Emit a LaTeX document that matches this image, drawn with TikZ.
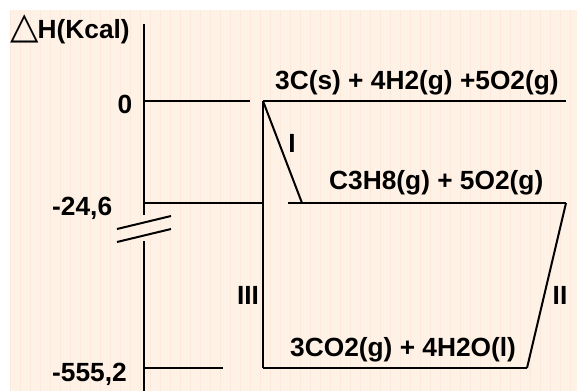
\documentclass[tikz,border=0pt]{standalone}
\usepackage{fontspec}
\setmainfont{Liberation Sans}
\newfontfamily\symfont{DejaVu Sans}
\definecolor{bgpeach}{HTML}{FEF1E6}
\definecolor{gridpeach}{HTML}{FCE9DC}
\begin{document}
\begin{tikzpicture}[x=1pt,y=-1pt,
  lbl/.style={inner sep=0pt,font=\fontsize{26.3}{31}\selectfont\bfseries},
  axis/.style={line width=2pt,black},
  lvl/.style={line width=2pt,black,line cap=butt}]
\useasboundingbox (0,0) rectangle (577,391);
\fill[white] (0,0) rectangle (577,391);
\fill[bgpeach] (10,10) rectangle (577,391);
\draw[gridpeach,line width=0.5pt] (10,10) grid[step=10] (577,391);
% axis
\coordinate (axtop) at (144,24);
\coordinate (axbrk1) at (144,215);
\coordinate (axbrk2) at (144,241);
\coordinate (axbot) at (144,391);
\draw[axis] (axtop) -- (axbrk1);
\draw[axis] (axbrk2) -- (axbot);
\coordinate (b1a) at (117,229); \coordinate (b1b) at (171,216);
\coordinate (b2a) at (117,242); \coordinate (b2b) at (171,229);
\draw[axis] (b1a) -- (b1b);
\draw[axis] (b2a) -- (b2b);
% levels
\coordinate (z0) at (144,101); \coordinate (z1) at (250,101);
\coordinate (A) at (263,101); \coordinate (Ar) at (566,101);
\coordinate (m0) at (144,203); \coordinate (m1) at (263,203);
\coordinate (B) at (288,203); \coordinate (Br) at (566,203);
\coordinate (Bi) at (302,203);
\coordinate (c0) at (144,368); \coordinate (c1) at (223,368);
\coordinate (C) at (263,368); \coordinate (Cr) at (527,368);
\draw[lvl] (z0) -- (z1);
\draw[lvl] (A) -- (Ar);
\draw[lvl] (m0) -- (m1);
\draw[lvl] (B) -- (Br);
\draw[lvl] (c0) -- (c1);
\draw[lvl] (C) -- (Cr);
% paths
\draw[lvl] (A) -- (Bi);
\draw[lvl] (A) -- (C);
\draw[lvl] (Br) -- (Cr);
% labels
\node[lbl,anchor=base west] (dh) at (10,38) {{\fontsize{37}{40}\selectfont\mdseries\symfont △}\kern-1ptH(Kcal)};
\node[lbl,anchor=base] (l0) at (125,113) {0};
\node[lbl,anchor=base west] (l24) at (52,215) {-24,6};
\node[lbl,anchor=base west] (l555) at (52,381) {-555,2};
\node[lbl,anchor=base west] (tA) at (275,89) {3C(s) + 4H2(g) +5O2(g)};
\node[lbl,anchor=base west] (tB) at (329,189) {C3H8(g) + 5O2(g)};
\node[lbl,anchor=base west] (tC) at (290,356) {3CO2(g) + 4H2O(l)};
\node[lbl,anchor=base] (r1) at (292,152) {I};
\node[lbl,anchor=base] (r3) at (248,304) {III};
\node[lbl,anchor=base] (r2) at (560,304) {II};
\end{tikzpicture}
\end{document}
